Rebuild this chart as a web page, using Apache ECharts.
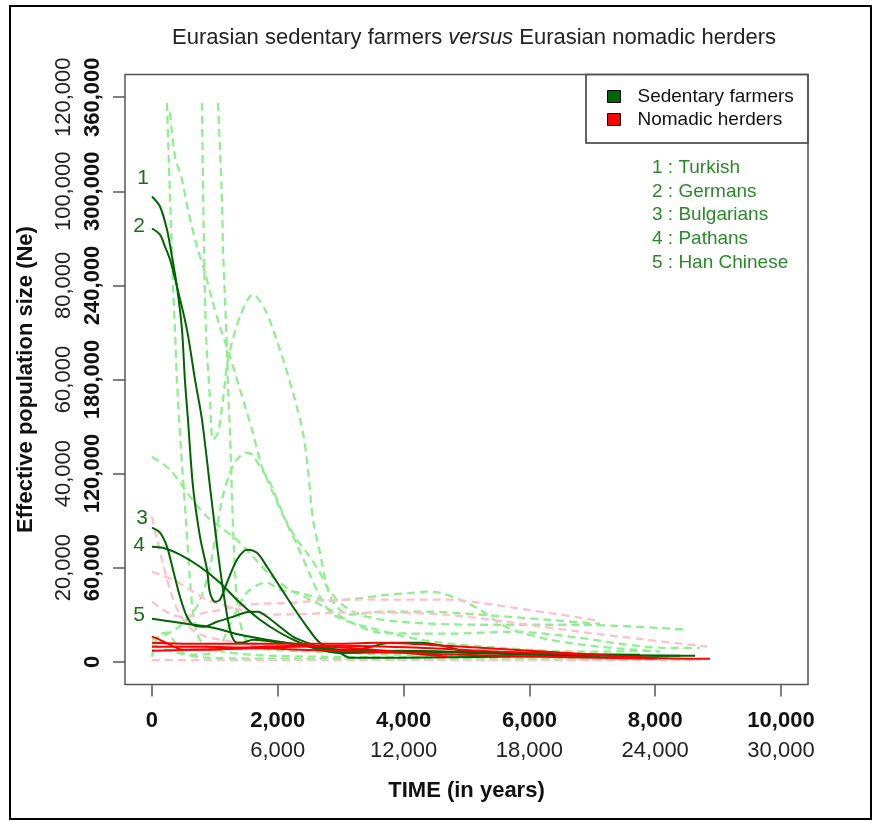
<!DOCTYPE html>
<html>
<head>
<meta charset="utf-8">
<script src="https://cdn.jsdelivr.net/npm/echarts@6/dist/echarts.min.js"></script>
<style>
  html, body { margin: 0; padding: 0; background: #fff; }
  #chart { width: 874px; height: 822px; }
</style>
</head>
<body>
<div id="chart"></div>
<script>
// Time axis ticks (years) and the two y scales (Ne)
const timeTicks = [0, 2000, 4000, 6000, 8000, 10000];
const timeTicksAlt = [6000, 12000, 18000, 24000, 30000];
const neTicks = [0, 60000, 120000, 180000, 240000, 300000, 360000];
const neTicksAlt = [20000, 40000, 60000, 80000, 100000, 120000];

// Highlighted sedentary farmers (solid dark green)
const turkishT = [0,127,238,318,397,477,523,572,652,763,875,922,1002,1081,1192,1351,1510,1669,1828,2034,2241,2464,2671,2989,3148,3943,5533,7123,8634];
const turkishNe = [296700,290300,275600,258400,239300,211800,179900,154400,111700,79800,58700,44000,38300,39600,50400,65100,71500,69500,60600,47900,35100,22300,12100,5700,2600,2600,3200,3800,3800];
const germansT = [0,127,207,286,397,556,684,795,922,1049,1161,1240,1320,1431,1606,1924,2353,2719,3100,3418,3784,4261,4690,5008,6328,7759];
const germansNe = [276300,272400,264800,256500,239300,211800,179900,154400,111700,69500,37600,20400,12800,12100,14000,12800,10900,7700,7000,8900,12100,12100,9600,6400,5100,4500];
const bulgariansT = [0,127,238,334,445,556,652,811,1033,1288,1558,1685,1828,2034,2241,2464,2782,2989,3943,5533,7123];
const bulgariansNe = [85500,82300,73400,58700,41500,28700,23600,22300,25500,28700,31900,31900,28700,22300,16000,12100,7700,5700,7000,5100,3800];
const pathansT = [0,175,445,763,1081,1399,1717,2034,2353,2671,2989,4261,6328,8395];
const pathansNe = [73400,72700,68300,60600,50400,37600,26800,18500,12100,7700,5700,6400,4500,3800];
const hanT = [0,334,652,970,1399,1924,2464,2989,4738,6487];
const hanNe = [27400,25500,23600,21700,17200,13400,10200,7700,6400,4500];

// Other sedentary farmers (dashed light green)
const farmA_T = [238,262,286,310,334,366,397,461,540,604,668,763,1002,1558,2671,4738,7123];
const farmA_Ne = [356300,326300,297600,268900,240200,211500,179600,135300,90600,52300,26800,14000,7700,4500,3200,2600,1900];
const farmB_T = [286,366,477,572,715,843,954,1081,1240,1415,1590,1749,1924,2114,2305,2512,2671,2830,3037,3466,4261,5533,6805,8013];
const farmB_Ne = [350300,322200,307500,288400,264800,248200,231000,213700,194600,171600,148000,124400,107800,90600,74700,55500,41500,31900,26800,21700,14000,8900,6400,7000];
const farmC_T = [795,827,859,922,970,1049,1129,1208,1399,1606,1796,2034,2241,2400,2480,2560,2671,2782,2909,3148,3625,4420,5215,6280,7123];
const farmC_Ne = [356300,262900,209900,167200,141600,146100,167200,192700,220100,234200,224600,199100,171600,146100,122500,90600,69500,47900,36400,30000,31900,31900,30000,26800,24200];
const farmD_T = [1049,1113,1129,1161,1192,1208,1240,1272,1304,1351,1431,1558,1876,2671,3943,5533];
const farmD_Ne = [356300,294800,262900,231000,199100,175500,146100,105300,71500,39600,20400,10900,7700,6400,4500,3200];
const farmE_T = [0,286,604,874,1081,1351,1606,1876,2194,2512,2830,3148,3625,4690,5740,6805,7330,8124,8713];
const farmE_Ne = [130800,122500,105300,92500,86100,77800,67000,55500,45900,39600,33200,25500,18500,17900,19100,15300,12100,8900,8900];
const farmF_T = [0,366,684,874,1002,1113,1240,1351,1494,1590,1717,1876,2034,2146,2305,2464,2671,2782,2989,3307,3943,5215,6805,8506];
const farmF_Ne = [14000,20400,33200,52300,77800,103400,120600,128900,133300,132100,124400,114200,98900,88700,77800,69500,56800,47900,37600,30000,25500,23600,23600,20400];
const farmG_T = [0,604,1002,1240,1478,1685,1828,2034,2353,2830,3355,3736,4150,4372,4579,4897,5215,5485,5740,6328,7123,8077];
const farmG_Ne = [10900,4500,6400,23600,42700,49100,50400,45900,44000,38900,40800,42700,44000,44700,44000,39600,33200,25500,20400,14000,9600,6400];
const farmH_T = [0,95,238,334,493,874,2353,5533,8713];
const farmH_Ne = [3200,16600,18500,14000,5700,2600,1900,1300,1300];

// Nomadic herders (solid red)
const herdA_T = [0,127,286,493,875,1399,2353,3307,4690];
const herdA_Ne = [16000,14000,10900,7700,7700,8900,10200,8300,3200];
const herdB_T = [0,604,1399,2989,3625,4690,5740,6805,7870,8872];
const herdB_Ne = [12100,11500,11500,11500,12100,10200,7700,5100,2600,1900];
const herdC_T = [0,604,1399,2989,4261,5533,7075];
const herdC_Ne = [7000,7700,8300,10200,8900,6400,4500];
const herdD_T = [0,763,2353,3943,5533,8029];
const herdD_Ne = [9600,9600,7700,5700,3800,1900];

// Other nomadic herders (dashed pink)
const nomA_T = [0,175,445,922,1558,2194,2989,3943,4738,5215,5740,6280,6805,7075];
const nomA_Ne = [38300,33200,28700,31900,36400,37600,39600,39600,39600,37600,34500,31300,28100,26200];
const nomB_T = [0,334,604,874,1129,1399,1924,2464,2989,3625,4690,5740,6805,7870,8824];
const nomB_Ne = [57400,52300,45900,39600,36400,33200,30000,30600,31300,31300,30000,24900,19100,14000,9600];
const nomC_T = [0,64,159,286,445,684,1081,1876,2830,3943,5533,7123];
const nomC_Ne = [92500,81000,65100,45900,30000,19100,14000,10900,8900,6400,3800,2600];
const nomD_T = [0,2353,5533,8713];
const nomD_Ne = [1100,1100,1100,1100];

const FONT = 'Liberation Sans, Arial, Helvetica, sans-serif';
const DARK = '#006400', LIGHT = '#90ee90', RED = '#ff0000', PINK = '#ffc0cb';
const addCommas = v => String(v).replace(/\B(?=(\d{3})+(?!\d))/g, ',');

function line(name, T, N, color, dashed, z) {
  return {
    type: 'line', name,
    data: T.map((t, i) => [t, N[i]]),
    symbol: 'none', smooth: 0.3, silent: true, z,
    lineStyle: { color, width: dashed ? 2.3 : 2, type: dashed ? [8, 5] : 'solid' },
    itemStyle: { color }
  };
}

const series = [
  line('Other sedentary farmers', farmA_T, farmA_Ne, LIGHT, true, 2),
  line('Other sedentary farmers', farmB_T, farmB_Ne, LIGHT, true, 2),
  line('Other sedentary farmers', farmC_T, farmC_Ne, LIGHT, true, 2),
  line('Other sedentary farmers', farmD_T, farmD_Ne, LIGHT, true, 2),
  line('Other sedentary farmers', farmE_T, farmE_Ne, LIGHT, true, 2),
  line('Other sedentary farmers', farmF_T, farmF_Ne, LIGHT, true, 2),
  line('Other sedentary farmers', farmG_T, farmG_Ne, LIGHT, true, 2),
  line('Other sedentary farmers', farmH_T, farmH_Ne, LIGHT, true, 2),
  line('Other nomadic herders', nomA_T, nomA_Ne, PINK, true, 2),
  line('Other nomadic herders', nomB_T, nomB_Ne, PINK, true, 2),
  line('Other nomadic herders', nomC_T, nomC_Ne, PINK, true, 2),
  line('Other nomadic herders', nomD_T, nomD_Ne, PINK, true, 2),
  line('Sedentary farmers', turkishT, turkishNe, DARK, false, 3),
  line('Sedentary farmers', germansT, germansNe, DARK, false, 3),
  line('Sedentary farmers', bulgariansT, bulgariansNe, DARK, false, 3),
  line('Sedentary farmers', pathansT, pathansNe, DARK, false, 3),
  line('Sedentary farmers', hanT, hanNe, DARK, false, 3),
  line('Nomadic herders', herdA_T, herdA_Ne, RED, false, 4),
  line('Nomadic herders', herdB_T, herdB_Ne, RED, false, 4),
  line('Nomadic herders', herdC_T, herdC_Ne, RED, false, 4),
  line('Nomadic herders', herdD_T, herdD_Ne, RED, false, 4)
];

const X_MIN = -429, X_MAX = 10429;
const Y_MIN = -14500, Y_MAX = 374500;

const populations = ['1 : Turkish', '2 : Germans', '3 : Bulgarians', '4 : Pathans', '5 : Han Chinese'];
const curveTags = [
  { text: '1', x: 143, y: 178 },
  { text: '2', x: 139, y: 226 },
  { text: '3', x: 142, y: 518 },
  { text: '4', x: 139, y: 545 },
  { text: '5', x: 139, y: 615 }
];

const chart = echarts.init(document.getElementById('chart'), null, { renderer: 'canvas' });

const graphics = [
  // outer frame
  { type: 'rect', shape: { x: 10, y: 6, width: 861, height: 813 },
    style: { fill: null, stroke: '#000', lineWidth: 2 }, silent: true },
  // title
  { type: 'text', x: 474, y: 38, silent: true,
    style: {
      text: '{n|Eurasian sedentary farmers }{i|versus}{n| Eurasian nomadic herders}',
      align: 'center', verticalAlign: 'middle',
      rich: {
        n: { fontSize: 22, fontFamily: FONT, fill: '#222' },
        i: { fontSize: 22, fontFamily: FONT, fill: '#222', fontStyle: 'italic' }
      }
    } },
  // legend box
  { type: 'rect', shape: { x: 586, y: 74.5, width: 222, height: 68.5 },
    style: { fill: '#fff', stroke: '#333', lineWidth: 1.5 }, silent: true, z: -1 }
];
populations.forEach((p, i) => {
  graphics.push({ type: 'text', x: 652, y: 168 + i * 23.6, silent: true,
    style: { text: p, fontSize: 19, fontFamily: FONT, fill: '#2a8a2a', align: 'left', verticalAlign: 'middle' } });
});
curveTags.forEach(c => {
  graphics.push({ type: 'text', x: c.x, y: c.y, silent: true,
    style: { text: c.text, fontSize: 21, fontFamily: FONT, fill: '#1a6e1a', align: 'center', verticalAlign: 'middle' } });
});

chart.setOption({
  animation: false,
  backgroundColor: '#fff',
  grid: { left: 125, right: 66, top: 74.5, bottom: 137.5, show: true, borderColor: '#555', borderWidth: 1.5, backgroundColor: 'transparent' },
  legend: {
    show: true, orient: 'vertical', left: 607, top: 87, padding: 0,
    icon: 'rect', itemWidth: 13, itemHeight: 12, itemGap: 4,
    selectedMode: false,
    itemStyle: { borderColor: '#000', borderWidth: 1 },
    textStyle: { fontSize: 19, fontFamily: FONT, color: '#111', padding: [0, 0, 0, 12] },
    data: [
      { name: 'Sedentary farmers', itemStyle: { color: DARK } },
      { name: 'Nomadic herders', itemStyle: { color: RED } }
    ]
  },
  xAxis: [
    {
      type: 'value', min: X_MIN, max: X_MAX, position: 'bottom',
      axisLine: { show: false, onZero: false },
      splitLine: { show: false },
      axisTick: { show: true, length: 12, inside: false, customValues: timeTicks, lineStyle: { color: '#555', width: 1.5 } },
      axisLabel: { customValues: timeTicks, margin: 25, fontSize: 22, fontWeight: 'bold', fontFamily: FONT, color: '#111', formatter: v => addCommas(v) },
      name: 'TIME (in years)', nameLocation: 'middle', nameGap: 95,
      nameTextStyle: { fontSize: 22, fontWeight: 'bold', fontFamily: FONT, color: '#111' }
    },
    {
      type: 'value', min: X_MIN * 3, max: X_MAX * 3, position: 'bottom', offset: 0,
      axisLine: { show: false, onZero: false }, axisTick: { show: false }, splitLine: { show: false },
      axisLabel: { customValues: timeTicksAlt, margin: 55, fontSize: 22, fontFamily: FONT, color: '#222', formatter: v => addCommas(v) }
    }
  ],
  yAxis: [
    {
      type: 'value', min: Y_MIN, max: Y_MAX, position: 'left',
      axisLine: { show: false, onZero: false }, splitLine: { show: false },
      axisTick: { show: true, length: 12, customValues: neTicks, lineStyle: { color: '#555', width: 1.5 } },
      axisLabel: { customValues: neTicks, rotate: 90, margin: 21, fontSize: 22, fontWeight: 'bold', fontFamily: FONT, color: '#111', formatter: v => addCommas(v) },
      name: 'Effective population size (Ne)', nameLocation: 'middle', nameGap: 88,
      nameTextStyle: { fontSize: 22, fontWeight: 'bold', fontFamily: FONT, color: '#111' }
    },
    {
      type: 'value', min: Y_MIN / 3, max: Y_MAX / 3, position: 'left', offset: 0,
      axisLine: { show: false, onZero: false }, axisTick: { show: false }, splitLine: { show: false },
      axisLabel: { customValues: neTicksAlt, rotate: 90, margin: 50, fontSize: 22, fontFamily: FONT, color: '#222', formatter: v => addCommas(v) }
    }
  ],
  graphic: graphics,
  series
});
</script>
</body>
</html>
